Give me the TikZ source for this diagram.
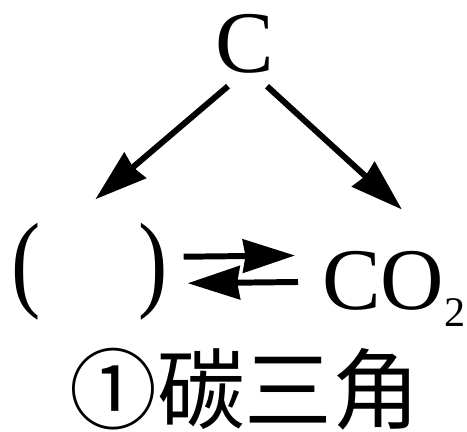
\documentclass[tikz,border=0pt]{standalone}
\usepackage{fontspec}
\setmainfont{Liberation Serif}
\newfontfamily\cjk{Noto Sans CJK SC}
\usetikzlibrary{arrows.meta}

\begin{document}
\begin{tikzpicture}[x=0.02cm,y=-0.02cm,
  chem/.style={inner sep=0pt,font=\fontsize{50}{55}\selectfont},
  caption/.style={inner sep=0pt,font=\cjk\fontsize{50}{55}\selectfont},
  conv/.style={-{Stealth[length=1.04cm,width=0.66cm,inset=0.05cm]},line width=3.4pt},
]
\useasboundingbox (0,0) rectangle (467,432);
% species of the carbon triangle
\node[chem,anchor=base] (carbon) at (245,73) {C};
\node[chem,anchor=base west] (blank) at (11,298) {\scalebox{1}[1.22]{(}\hspace{1.11em}\scalebox{1}[1.22]{)}};
\node[chem,anchor=base west] (dioxide) at (322,310) {CO\raisebox{-0.19em}{\fontsize{24}{24}\selectfont 2}};
\node[caption,anchor=base] (title) at (245,423) {①碳三角};
% conversions
\draw[conv] ([shift={(-17,12)}]carbon.south) -- ([shift={(6,-24)}]blank.north);
\draw[conv] ([shift={(22,12)}]carbon.south) -- ([shift={(8,-42)}]dioxide.north);
\draw[conv] ([shift={(16,-15.5)}]blank.east) -- ([shift={(-27,-54.5)}]dioxide.base west);
\draw[conv] ([shift={(-24,-28)}]dioxide.base west) -- ([shift={(20,11)}]blank.east);
\end{tikzpicture}
\end{document}
